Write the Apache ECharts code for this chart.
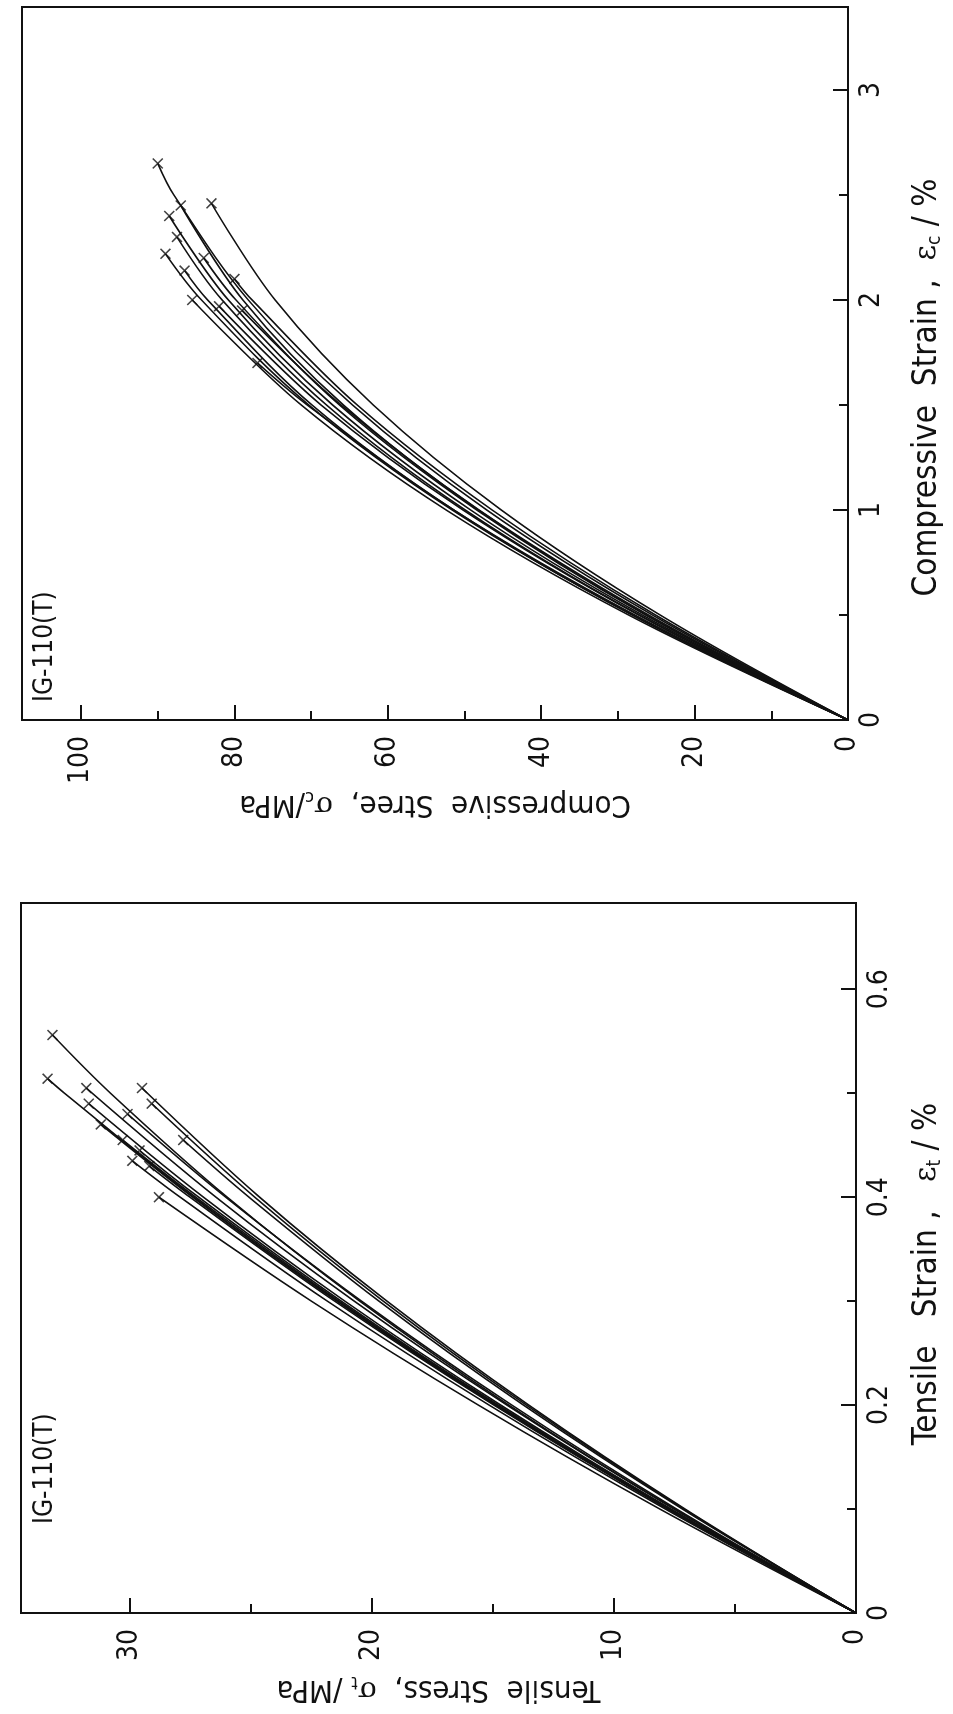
<!DOCTYPE html>
<html><head><meta charset="utf-8">
<script src="https://cdn.jsdelivr.net/npm/echarts@6/dist/echarts.min.js"></script>
<style>
html,body{margin:0;padding:0;background:#fff;width:953px;height:1714px;overflow:hidden;}
#chart{position:absolute;left:0;top:0;width:1714px;height:953px;transform-origin:0 0;transform:translate(0px,1714px) rotate(-90deg);background:#fff;}
</style></head><body><div id="chart"></div>
<script>
// ---- Tensile panel: [strain %, stress MPa] ----
const t01 = [[0,0],[0.1,7.5],[0.2,14.34],[0.3,20.5],[0.4,25.98],[0.5,30.8],[0.556,33.2]];
const t02 = [[0,0],[0.1,7.74],[0.2,14.88],[0.3,21.42],[0.4,27.36],[0.5,32.7],[0.514,33.4]];
const t03 = [[0,0],[0.1,7.51],[0.2,14.42],[0.3,20.73],[0.4,26.44],[0.505,31.8]];
const t04 = [[0,0],[0.1,7.64],[0.2,14.68],[0.3,21.12],[0.4,26.96],[0.49,31.7]];
const t05 = [[0,0],[0.1,7.75],[0.2,14.9],[0.3,21.45],[0.4,27.4],[0.47,31.2]];
const t06 = [[0,0],[0.1,7.41],[0.2,14.22],[0.3,20.43],[0.4,26.04],[0.48,30.1]];
const t07 = [[0,0],[0.1,7.72],[0.2,14.84],[0.3,21.36],[0.4,27.28],[0.455,30.3]];
const t08 = [[0,0],[0.1,7.69],[0.2,14.78],[0.3,21.27],[0.4,27.16],[0.445,29.6]];
const t09 = [[0,0],[0.1,7.88],[0.2,15.16],[0.3,21.84],[0.4,27.92],[0.435,29.9]];
const t10 = [[0,0],[0.1,7.06],[0.2,13.52],[0.3,19.38],[0.4,24.64],[0.505,29.5]];
const t11 = [[0,0],[0.1,7.11],[0.2,13.62],[0.3,19.53],[0.4,24.84],[0.49,29.1]];
const t12 = [[0,0],[0.1,7.17],[0.2,13.74],[0.3,19.71],[0.4,25.08],[0.455,27.8]];
const t13 = [[0,0],[0.1,8.1],[0.2,15.6],[0.3,22.5],[0.4,28.8]];
const t14 = [[0,0],[0.1,7.78],[0.2,14.96],[0.3,21.54],[0.4,27.52],[0.43,29.2]];
const tensileCurves = [t01,t02,t03,t04,t05,t06,t07,t08,t09,t10,t11,t12,t13,t14];

// ---- Compressive panel: [strain %, stress MPa] ----
const c01 = [[0,0],[0.5,25.5],[1,47.1],[1.5,64.6],[2,78.2],[2.5,87.9],[2.65,90]];
const c02 = [[0,0],[0.5,26.3],[1,48.2],[1.5,65.8],[2,78.9],[2.45,87]];
const c03 = [[0,0],[0.5,26.8],[1,49.2],[1.5,67.2],[2,80.8],[2.4,88.5]];
const c04 = [[0,0],[0.5,27.2],[1,49.9],[1.5,68.0],[2,81.6],[2.3,87.5]];
const c05 = [[0,0],[0.5,28.1],[1,51.6],[1.5,70.3],[2,84.3],[2.22,89]];
const c06 = [[0,0],[0.5,28.1],[1,51.4],[1.5,69.9],[2,83.5],[2.14,86.5]];
const c07 = [[0,0],[0.5,24.5],[1,45.2],[1.5,61.9],[2,74.7],[2.46,83]];
const c08 = [[0,0],[0.5,26.4],[1,48.4],[1.5,66.3],[2,79.8],[2.2,84]];
const c09 = [[0,0],[0.5,28.6],[1,52.4],[1.5,71.3],[2,85.5]];
const c10 = [[0,0],[0.5,27.3],[1,50.2],[1.5,68.7],[1.97,82]];
const c11 = [[0,0],[0.5,25.1],[1,46.4],[1.5,64.0],[2,77.7],[2.1,80]];
const c12 = [[0,0],[0.5,26.0],[1,48.1],[1.5,66.1],[1.95,79]];
const c13 = [[0,0],[0.5,27.8],[1,51.4],[1.5,70.5],[1.7,77]];
const compCurves = [c01,c02,c03,c04,c05,c06,c07,c08,c09,c10,c11,c12,c13];

// ---- Tick labels ----
const tensileStrainLabels = [0, 0.2, 0.4, 0.6];
const tensileStressLabels = [0, 10, 20, 30];
const compStrainLabels = [0, 1, 2, 3];
const compStressLabels = [0, 20, 40, 60, 80, 100];

const FONT = "'Liberation Sans Narrow','DejaVu Sans Condensed','Roboto Condensed','Liberation Sans',sans-serif";
const BLACK = '#111';

function labelFmt(list){
  return function(v){
    for (const t of list) { if (Math.abs(v - t) < 1e-6) return String(t); }
    return '';
  };
}
function richName(size){
  return {
    g:{fontFamily:'DejaVu Serif', fontSize:size-3, color:BLACK},
    s:{fontFamily:FONT, fontSize:Math.round(size*0.58), color:BLACK, padding:[Math.round(size*0.48),0,0,0]},
    n:{fontFamily:FONT, fontSize:size, color:BLACK}
  };
}
function majorAxis(o){
  return Object.assign({
    type:'value', min:0,
    axisLine:{show:true, lineStyle:{color:BLACK, width:2}},
    axisTick:{show:true, inside:true, length:15, lineStyle:{color:BLACK, width:2}},
    splitLine:{show:false},
    nameLocation:'middle'
  }, o);
}
function minorAxis(o){
  return Object.assign({
    type:'value', min:0,
    axisLine:{show:false},
    axisTick:{show:true, inside:true, length:9, lineStyle:{color:BLACK, width:2}},
    splitLine:{show:false},
    axisLabel:{show:false}
  }, o);
}
function tickLabel(list, margin){
  return {color:BLACK, fontFamily:FONT, fontSize:28, margin:margin, showMaxLabel:false, formatter:labelFmt(list)};
}
function nameStyle(size, padding){
  return {color:BLACK, fontFamily:FONT, fontSize:size, rich:richName(size), padding:padding};
}

const series = [];
tensileCurves.forEach(c => series.push({type:'line', xAxisIndex:0, yAxisIndex:0, data:c, smooth:0.35,
  showSymbol:false, lineStyle:{color:BLACK, width:1.6}, silent:true}));
compCurves.forEach(c => series.push({type:'line', xAxisIndex:2, yAxisIndex:2, data:c, smooth:0.35,
  showSymbol:false, lineStyle:{color:BLACK, width:1.6}, silent:true}));
const CROSS = 'path://M0,1L1,0L5,4L9,0L10,1L6,5L10,9L9,10L5,6L1,10L0,9L4,5Z';
series.push({type:'scatter', xAxisIndex:0, yAxisIndex:0, symbol:CROSS, symbolSize:11,
  itemStyle:{color:BLACK}, data:tensileCurves.map(c => c[c.length-1])});
series.push({type:'scatter', xAxisIndex:2, yAxisIndex:2, symbol:CROSS, symbolSize:11,
  itemStyle:{color:BLACK}, data:compCurves.map(c => c[c.length-1])});

const chart = echarts.init(document.getElementById('chart'), null, {renderer:'canvas', width:1714, height:953});
chart.setOption({
  animation:false,
  backgroundColor:'#fff',
  grid:[
    {left:101, top:21, width:710, height:835, show:true, borderColor:BLACK, borderWidth:2},
    {left:994, top:22, width:713, height:826, show:true, borderColor:BLACK, borderWidth:2}
  ],
  xAxis:[
    majorAxis({gridIndex:0, position:'bottom', max:0.683, interval:0.2,
      axisLabel:tickLabel(tensileStrainLabels, 10),
      name:'{n|Tensile   Strain ,   }{g|ε}{s|t}{n| / %}', nameGap:54, nameTextStyle:nameStyle(33, [0,32,0,0])}),
    minorAxis({gridIndex:0, position:'bottom', max:0.683, interval:0.1}),
    majorAxis({gridIndex:1, position:'bottom', max:3.395, interval:1,
      axisLabel:tickLabel(compStrainLabels, 10),
      name:'{n|Compressive  Strain ,  }{g|ε}{s|c}{n| / %}', nameGap:62, nameTextStyle:nameStyle(33, [0,48,0,0])}),
    minorAxis({gridIndex:1, position:'bottom', max:3.395, interval:0.5})
  ],
  yAxis:[
    majorAxis({gridIndex:0, position:'left', max:34.5, interval:10,
      axisLabel:tickLabel(tensileStressLabels, 16),
      name:'{n|Tensile  Stress,  }{g|σ}{s|t}{n| /MPa}', nameGap:60, nameTextStyle:nameStyle(31, 0)}),
    minorAxis({gridIndex:0, position:'left', max:34.5, interval:5}),
    majorAxis({gridIndex:1, position:'left', max:107.7, interval:20,
      axisLabel:tickLabel(compStressLabels, 16),
      name:'{n|Compressive  Stree,  }{g|σ}{s|c}{n|/MPa}', nameGap:52, nameTextStyle:nameStyle(31, 0)}),
    minorAxis({gridIndex:1, position:'left', max:107.7, interval:10})
  ],
  graphic:[
    {type:'text', left:190, top:32, style:{text:'IG-110(T)', fontFamily:FONT, fontSize:26, fill:BLACK}},
    {type:'text', left:1012, top:32, style:{text:'IG-110(T)', fontFamily:FONT, fontSize:26, fill:BLACK}}
  ],
  series:series
});
</script></body></html>
